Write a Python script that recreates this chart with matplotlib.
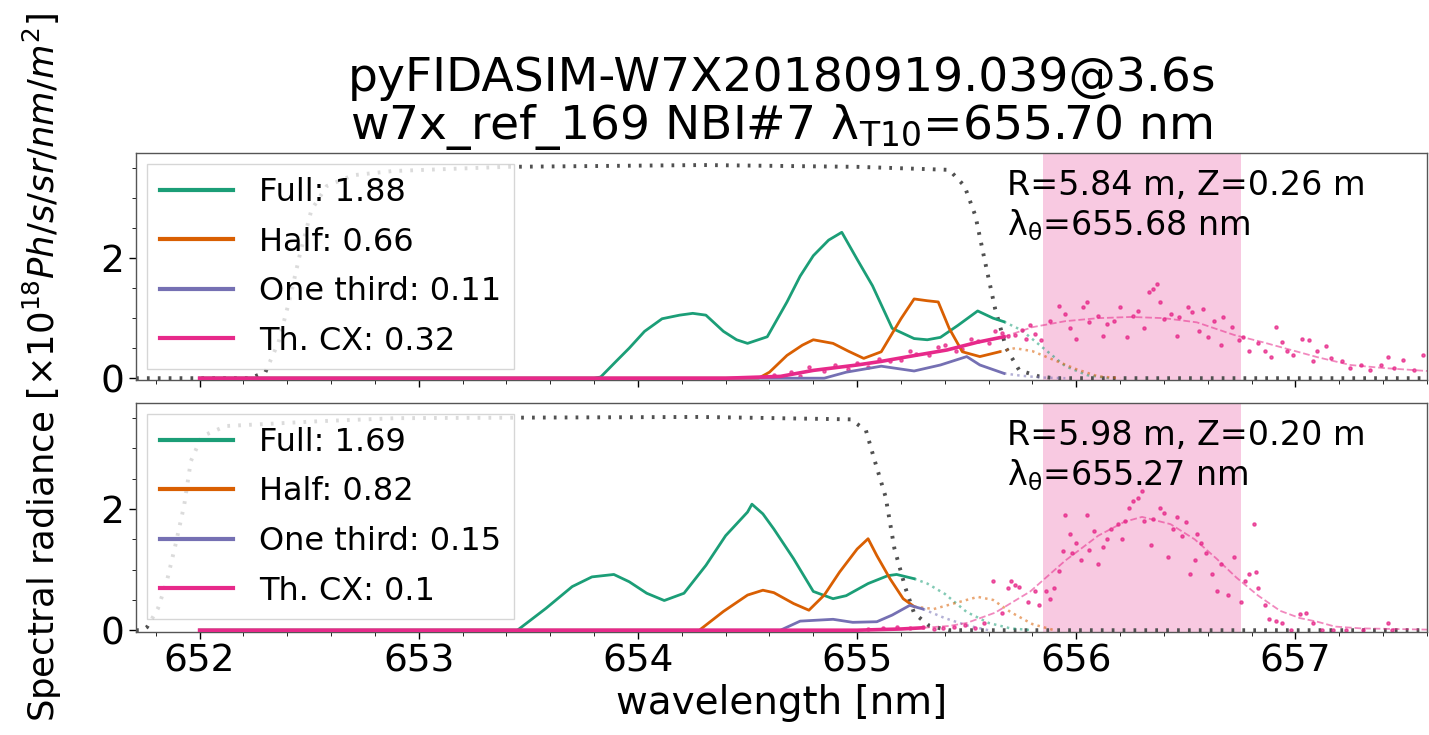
import numpy as np
import matplotlib
matplotlib.use("Agg")
import matplotlib.pyplot as plt
from matplotlib.ticker import MultipleLocator

# ---------------- data ----------------
# top panel: R=5.84 m
top_filter_wl = [651.71, 652.23, 652.3, 652.36, 652.41, 652.46, 652.51, 652.58, 652.7, 652.88, 653.4, 654.3,
                 655.0, 655.42, 655.49, 655.54, 655.58, 655.63, 655.68, 655.74, 655.83, 655.9, 657.6]
top_filter_val = [0, 0, 0.1, 0.6, 1.3, 2.1, 2.8, 3.2, 3.38, 3.45, 3.52, 3.55,
                  3.52, 3.47, 3.2, 2.7, 2.0, 1.15, 0.5, 0.13, 0.03, 0, 0]

top_full_wl = [652.0, 653.8, 653.83, 653.9, 653.96, 654.03, 654.11, 654.19, 654.25, 654.31, 654.39, 654.45,
               654.50, 654.59, 654.68, 654.74, 654.80, 654.87, 654.93, 655.00, 655.07, 655.16, 655.26,
               655.32, 655.38, 655.46, 655.55, 655.62, 655.67, 655.75, 655.85, 655.95, 656.05, 656.15]
top_full_val = [0, 0, 0.02, 0.28, 0.50, 0.78, 0.99, 1.05, 1.08, 1.05, 0.78, 0.64,
                0.58, 0.69, 1.27, 1.70, 2.04, 2.30, 2.43, 1.98, 1.54, 0.83, 0.66,
                0.64, 0.68, 0.88, 1.12, 1.0, 0.94, 0.8, 0.5, 0.2, 0.05, 0]

top_half_wl = [652.0, 654.55, 654.6, 654.68, 654.75, 654.80, 654.89, 654.96, 655.03, 655.11, 655.20, 655.26,
               655.32, 655.37, 655.42, 655.48, 655.56, 655.65, 655.72, 655.8, 655.9, 656.0, 656.1, 656.2]
top_half_val = [0, 0, 0.1, 0.38, 0.55, 0.64, 0.58, 0.45, 0.33, 0.44, 0.99, 1.32,
                1.29, 1.27, 0.83, 0.44, 0.36, 0.44, 0.5, 0.45, 0.3, 0.15, 0.03, 0]

top_third_wl = [652.0, 654.85, 654.95, 655.11, 655.26, 655.38, 655.50, 655.56, 655.67, 655.75, 655.85, 655.95]
top_third_val = [0, 0, 0.1, 0.20, 0.12, 0.22, 0.36, 0.22, 0.08, 0.04, 0.01, 0]

top_cx_wl = [652.0, 654.4, 654.65, 654.8, 655.0, 655.11, 655.25, 655.41, 655.55, 655.67, 655.8, 655.95,
             656.1, 656.25, 656.4, 656.55, 656.72, 656.85, 656.95, 657.1, 657.25, 657.4, 657.6]
top_cx_val = [0, 0, 0.03, 0.13, 0.22, 0.28, 0.37, 0.47, 0.6, 0.69, 0.85, 0.95,
              1.0, 1.02, 1.0, 0.93, 0.72, 0.6, 0.5, 0.35, 0.22, 0.17, 0.12]

top_dots_wl = [654.62, 654.70, 654.74, 654.78, 654.85, 654.90, 654.96, 655.00, 655.05, 655.10, 655.15, 655.20,
               655.24, 655.27, 655.33, 655.37, 655.40, 655.45, 655.48, 655.52, 655.55, 655.60, 655.63, 655.66,
               655.69, 655.72, 655.75, 655.77, 655.79, 655.81, 655.84, 655.88, 655.92, 655.95, 655.97, 656.00,
               656.03, 656.05, 656.06, 656.10, 656.12, 656.14, 656.17, 656.20, 656.23, 656.26, 656.28, 656.31,
               656.33, 656.35, 656.37, 656.38, 656.40, 656.43, 656.46, 656.47, 656.51, 656.53, 656.56, 656.58,
               656.60, 656.63, 656.66, 656.67, 656.71, 656.74, 656.76, 656.79, 656.83, 656.86, 656.89, 656.91,
               656.94, 656.96, 656.99, 657.03, 657.06, 657.08, 657.10, 657.14, 657.16, 657.21, 657.25, 657.30,
               657.34, 657.39, 657.42, 657.45, 657.49, 657.54, 657.58]
top_dots_val = [0.05, 0.10, 0.04, 0.18, 0.12, 0.22, 0.15, 0.25, 0.18, 0.32, 0.28, 0.30,
                0.45, 0.40, 0.38, 0.52, 0.55, 0.45, 0.48, 0.66, 0.62, 0.58, 0.78, 0.75,
                0.70, 0.72, 0.80, 0.66, 0.88, 0.74, 0.63, 0.96, 1.21, 1.07, 0.83, 0.66,
                1.19, 1.27, 0.94, 1.04, 0.71, 0.91, 0.96, 1.19, 0.69, 1.04, 1.12, 0.83,
                1.44, 1.49, 1.57, 1.27, 0.99, 1.07, 0.71, 1.02, 1.19, 1.11, 0.78, 1.16,
                0.69, 0.96, 0.55, 1.02, 0.86, 0.63, 0.69, 0.45, 0.58, 0.46, 0.36, 0.86,
                0.61, 0.46, 0.38, 0.66, 0.63, 0.28, 0.45, 0.53, 0.33, 0.28, 0.17, 0.22,
                0.13, 0.22, 0.36, 0.17, 0.30, 0.13, 0.38]

# bottom panel: R=5.98 m
bot_filter_wl = [651.71, 651.74, 651.76, 651.81, 651.85, 651.89, 651.93, 651.96, 652.01, 652.12, 652.55, 652.9,
                 654.28, 654.97, 655.04, 655.08, 655.13, 655.17, 655.22, 655.26, 655.33, 655.42, 657.6]
bot_filter_val = [0, 0, 0.05, 0.36, 0.80, 1.41, 2.07, 2.79, 3.2, 3.37, 3.45, 3.5,
                  3.52, 3.48, 3.3, 2.8, 2.2, 1.35, 0.7, 0.28, 0.07, 0, 0]

bot_full_wl = [652.0, 653.45, 653.58, 653.70, 653.79, 653.89, 653.96, 654.04, 654.12, 654.21, 654.31, 654.40,
               654.50, 654.52, 654.57, 654.62, 654.71, 654.80, 654.89, 654.95, 655.05, 655.14, 655.18,
               655.26, 655.32, 655.4, 655.5, 655.6, 655.7, 655.8]
bot_full_val = [0, 0, 0.36, 0.72, 0.88, 0.92, 0.80, 0.61, 0.49, 0.61, 1.07, 1.56,
                1.95, 2.08, 1.92, 1.67, 1.18, 0.64, 0.52, 0.57, 0.77, 0.90, 0.92,
                0.85, 0.77, 0.6, 0.3, 0.12, 0.03, 0]

bot_half_wl = [652.0, 654.28, 654.39, 654.50, 654.57, 654.62, 654.71, 654.78, 654.85, 654.92, 655.00, 655.05,
               655.09, 655.15, 655.21, 655.26, 655.35, 655.45, 655.55, 655.62, 655.7, 655.8, 655.9]
bot_half_val = [0, 0, 0.31, 0.58, 0.66, 0.62, 0.44, 0.33, 0.58, 0.96, 1.34, 1.51,
                1.23, 0.85, 0.52, 0.39, 0.35, 0.45, 0.55, 0.5, 0.3, 0.1, 0]

bot_third_wl = [652.0, 654.65, 654.74, 654.89, 654.98, 655.09, 655.16, 655.24, 655.3, 655.4, 655.5, 655.6]
bot_third_val = [0, 0, 0.15, 0.18, 0.13, 0.14, 0.25, 0.41, 0.35, 0.2, 0.08, 0]

bot_cx_wl = [652.0, 655.0, 655.2, 655.3, 655.42, 655.5, 655.63, 655.79, 655.95, 656.10, 656.22, 656.3,
             656.43, 656.54, 656.64, 656.73, 656.83, 656.93, 657.02, 657.1, 657.18, 657.3, 657.45, 657.6]
bot_cx_val = [0, 0, 0.02, 0.04, 0.07, 0.12, 0.29, 0.64, 1.15, 1.56, 1.79, 1.87,
              1.75, 1.5, 1.18, 0.87, 0.57, 0.32, 0.2, 0.14, 0.06, 0.03, 0.02, 0.01]

bot_dots_wl = [655.05, 655.12, 655.18, 655.24, 655.30, 655.35, 655.39, 655.44, 655.49, 655.54, 655.58, 655.62,
               655.66, 655.69, 655.70, 655.72, 655.74, 655.78, 655.81, 655.83, 655.86, 655.88, 655.90, 655.92,
               655.94, 655.95, 655.97, 655.98, 656.00, 656.02, 656.05, 656.06, 656.08, 656.10, 656.12, 656.14,
               656.16, 656.19, 656.21, 656.22, 656.24, 656.26, 656.28, 656.30, 656.31, 656.34, 656.35, 656.38,
               656.40, 656.42, 656.44, 656.46, 656.48, 656.50, 656.52, 656.54, 656.55, 656.57, 656.59, 656.62,
               656.64, 656.66, 656.69, 656.72, 656.75, 656.77, 656.79, 656.81, 656.82, 656.83, 656.86, 656.88,
               656.91, 656.94, 656.98, 657.02, 657.05, 657.08, 657.12, 657.17, 657.23, 657.31, 657.42, 657.44]
bot_dots_val = [0.02, 0.03, 0.05, 0.03, 0.06, 0.02, 0.04, 0.06, 0.09, 0.04, 0.12, 0.81,
                0.29, 0.70, 0.81, 0.75, 0.72, 0.47, 0.64, 0.41, 0.64, 0.52, 0.70, 0.98,
                1.30, 1.90, 1.59, 1.27, 1.44, 1.16, 1.90, 1.33, 1.64, 1.10, 1.38, 1.50,
                1.67, 1.76, 1.50, 1.81, 2.02, 2.13, 2.19, 2.30, 1.81, 1.41, 1.84, 2.02,
                1.93, 1.21, 1.67, 1.87, 1.56, 1.79, 0.93, 1.16, 1.59, 1.44, 1.27, 0.93,
                0.64, 1.10, 0.58, 1.21, 0.47, 0.81, 0.93, 1.76, 0.96, 0.70, 0.41, 0.18,
                0.15, 0.12, 0.01, 0.27, 0.29, 0.12, 0.01, 0.0, 0.0, 0.0, 0.12, 0.0]

top_labels = ["Full: 1.88", "Half: 0.66", "One third: 0.11", "Th. CX: 0.32"]
bot_labels = ["Full: 1.69", "Half: 0.82", "One third: 0.15", "Th. CX: 0.1"]
top_note = "R=5.84 m, Z=0.26 m\nλ$_\\mathregular{θ}$=655.68 nm"
bot_note = "R=5.98 m, Z=0.20 m\nλ$_\\mathregular{θ}$=655.27 nm"
top_cut = 655.68
bot_cut = 655.30
span_lo, span_hi = 655.85, 656.75

title = "pyFIDASIM-W7X20180919.039@3.6s\nw7x_ref_169 NBI#7 λ$_\\mathregular{T10}$=655.70 nm"

COLORS = ["#1b9e77", "#d95f02", "#7570b3", "#e7298a"]

# ---------------- figure ----------------
fig = plt.figure(figsize=(14.29, 7.35), dpi=100)
ax1 = fig.add_axes([0.0952, 0.483, 0.9034, 0.3088])
ax2 = fig.add_axes([0.0952, 0.1401, 0.9034, 0.3116], sharex=ax1)


def split(w, v, cut):
    w = np.asarray(w, float)
    v = np.asarray(v, float)
    n = int(np.searchsorted(w, cut, side="right"))
    return (w[:n], v[:n]), (w[max(n - 1, 0):], v[max(n - 1, 0):])


def panel(ax, fw, fv, comps, cxw, cxv, dw, dv, cut, labels, note):
    ax.axvspan(span_lo, span_hi, color=COLORS[3], alpha=0.25, lw=0, zorder=0)
    ax.plot(fw, fv, ls=(0, (0.7, 2.1)), color="#505050", lw=2.8, zorder=1)
    handles = []
    for (w, v), c, lab in zip(comps, COLORS[:3], labels[:3]):
        (ws, vs), (wf, vf) = split(w, v, cut)
        ax.plot(wf, vf, ls=":", color=c, lw=1.8, alpha=0.55, zorder=2)
        h, = ax.plot(ws, vs, color=c, lw=2.0, zorder=3, label=lab)
        handles.append(h)
    (ws, vs), (wf, vf) = split(cxw, cxv, cut)
    ax.plot(wf, vf, ls="--", color=COLORS[3], lw=1.3, alpha=0.55, zorder=2)
    h, = ax.plot(ws, vs, color=COLORS[3], lw=2.6, zorder=4, label=labels[3])
    handles.append(h)
    ax.plot(dw, dv, ".", color=COLORS[3], ms=4.5, alpha=0.75, zorder=2)
    leg = ax.legend(handles=handles, loc="upper left", fontsize=23, framealpha=0.8,
                    edgecolor="#cccccc", fancybox=False, handlelength=2.3,
                    borderaxespad=0.35, labelspacing=0.58)
    for lh in leg.get_lines():
        lh.set_linewidth(3)
    ax.text(0.675, 0.93, note, transform=ax.transAxes, ha="left", va="top",
            fontsize=24, linespacing=1.2, zorder=6)
    ax.set_ylim(-0.03, 3.75)
    ax.yaxis.set_major_locator(MultipleLocator(2))
    ax.yaxis.set_minor_locator(MultipleLocator(0.5))
    ax.xaxis.set_major_locator(MultipleLocator(1))
    ax.xaxis.set_minor_locator(MultipleLocator(0.2))
    ax.tick_params(labelsize=27, colors="black", width=1, length=5)
    ax.tick_params(which="minor", length=3)
    for s in ax.spines.values():
        s.set_color("#555555")
        s.set_linewidth(1.0)


panel(ax1, top_filter_wl, top_filter_val,
      [(top_full_wl, top_full_val), (top_half_wl, top_half_val), (top_third_wl, top_third_val)],
      top_cx_wl, top_cx_val, top_dots_wl, top_dots_val, top_cut, top_labels, top_note)
panel(ax2, bot_filter_wl, bot_filter_val,
      [(bot_full_wl, bot_full_val), (bot_half_wl, bot_half_val), (bot_third_wl, bot_third_val)],
      bot_cx_wl, bot_cx_val, bot_dots_wl, bot_dots_val, bot_cut, bot_labels, bot_note)

ax1.set_xlim(651.71, 657.6)
ax1.tick_params(labelbottom=False)
ax1.set_title(title, fontsize=34, pad=10, linespacing=1.02)
ax2.set_xlabel("wavelength [nm]", fontsize=28, labelpad=3)
fig.text(0.03, 0.5, "Spectral radiance [×$10^{18} Ph/s/sr/nm/m^2$]", rotation=90,
         ha="center", va="center", fontsize=25.5)

fig.savefig("out.png", dpi=100)
